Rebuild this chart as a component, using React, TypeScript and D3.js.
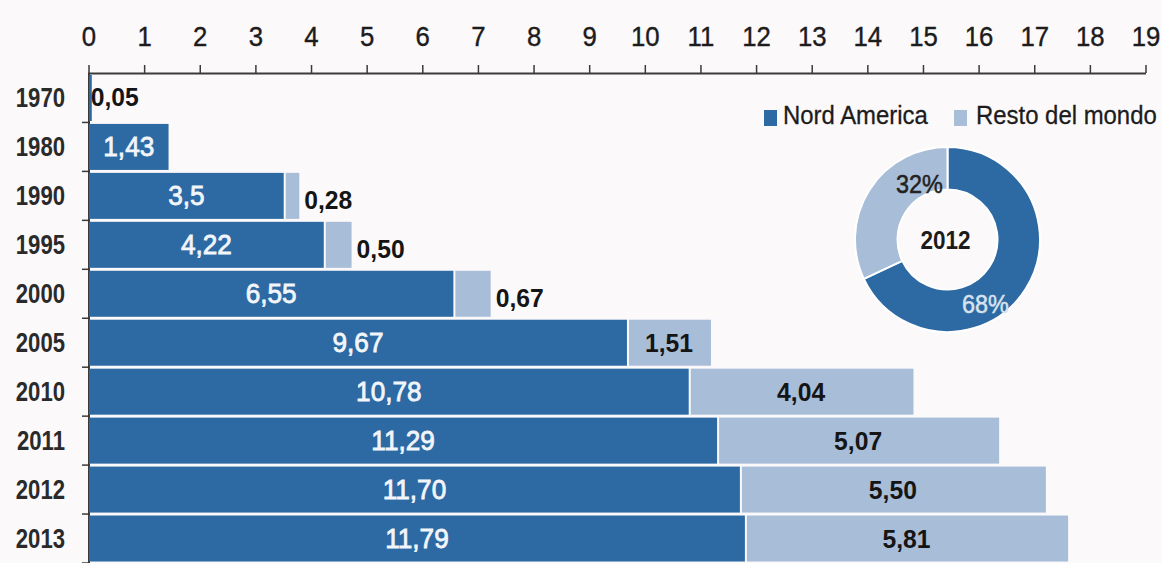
import React from "react";
import * as d3 from "d3";

const years = ["1970", "1980", "1990", "1995", "2000", "2005", "2010", "2011", "2012", "2013"];
const nordAmerica = [0.05, 1.43, 3.5, 4.22, 6.55, 9.67, 10.78, 11.29, 11.7, 11.79];
const restoMondo = [0, 0, 0.28, 0.5, 0.67, 1.51, 4.04, 5.07, 5.5, 5.81];
const naLabels = ["0,05", "1,43", "3,5", "4,22", "6,55", "9,67", "10,78", "11,29", "11,70", "11,79"];
const rmLabels = ["", "", "0,28", "0,50", "0,67", "1,51", "4,04", "5,07", "5,50", "5,81"];
const xTicks = d3.range(0, 20);
const pieLabels = ["Nord America", "Resto del mondo"];
const pieValues = [68, 32];
const pieYear = "2012";

const W = 1162;
const H = 563;
const DARK = "#2d6aa4";
const LIGHT = "#a8bdd8";
const BG = "#fcf9fb";
const INK = "#1c1c1c";
const FONT = "'Liberation Sans', Arial, sans-serif";

type TxtProps = {
  x: number;
  y: number;
  size: number;
  sx?: number;
  anchor?: "start" | "middle" | "end";
  bold?: boolean;
  fill?: string;
  stroke?: number;
  children: React.ReactNode;
};

function Txt({ x, y, size, sx = 1, anchor = "start", bold = false, fill = INK, stroke = 0, children }: TxtProps) {
  return (
    <text
      transform={`translate(${x},${y}) scale(${sx},1)`}
      fontSize={size}
      fontWeight={bold ? "bold" : "normal"}
      textAnchor={anchor}
      fill={fill}
      stroke={stroke > 0 ? fill : undefined}
      strokeWidth={stroke > 0 ? stroke : undefined}
    >
      {children}
    </text>
  );
}

export default function App() {
  const x = d3.scaleLinear().domain([0, 19]).range([89, 1146]);
  const y = d3.scaleBand<string>().domain(years).range([73.5, 563]).paddingInner(0.06).paddingOuter(0.03);
  const step = y.step();
  const bh = y.bandwidth();

  const pie = d3.pie<number>().sort(null).value((d) => d)(pieValues);
  const arc = d3.arc<d3.PieArcDatum<number>>().innerRadius(50).outerRadius(92.5);
  const cx = 947.5, cy = 239.5;

  return (
    <svg width={W} height={H} style={{ position: "absolute", left: 0, top: 0, background: BG }} fontFamily={FONT}>
      <rect width={W} height={H} fill={BG} />
      {/* top axis */}
      <line x1={x(0) - 1} x2={x(19)} y1={73.5} y2={73.5} stroke="#3a3a3a" strokeWidth={2} />
      {xTicks.map((t) => (
        <g key={t}>
          <line x1={x(t)} x2={x(t)} y1={65} y2={73} stroke="#3a3a3a" strokeWidth={1.5} />
          <Txt x={x(t)} y={46} size={28} sx={0.92} anchor="middle" stroke={0.4}>{t}</Txt>
        </g>
      ))}
      {/* left axis */}
      <line x1={x(0)} x2={x(0)} y1={73} y2={H} stroke="#3a3a3a" strokeWidth={2} />
      {years.map((yr, i) => (
        <g key={yr}>
          <line x1={x(0) - 7} x2={x(0)} y1={73.5 + step * (i + 1)} y2={73.5 + step * (i + 1)} stroke="#3a3a3a" strokeWidth={1.5} />
          <Txt x={65} y={(y(yr) as number) + bh / 2 + 9.5} size={27} sx={0.82} anchor="end" bold fill="#2a2a2a">{yr}</Txt>
        </g>
      ))}
      {/* bars */}
      {years.map((yr, i) => {
        const y0 = y(yr) as number;
        const naEnd = x(nordAmerica[i]);
        const rmEnd = x(nordAmerica[i] + restoMondo[i]);
        const base = y0 + bh / 2 + 9.5;
        const rmW = rmEnd - naEnd;
        return (
          <g key={yr}>
            <rect x={x(0)} y={y0} width={naEnd - x(0)} height={bh} fill={DARK} />
            {restoMondo[i] > 0 && (
              <rect x={naEnd + 2} y={y0} width={Math.max(0, rmW - 2)} height={bh} fill={LIGHT} />
            )}
            {nordAmerica[i] > 0.5 ? (
              <Txt x={(x(0) + naEnd) / 2} y={base} size={27} sx={0.97} anchor="middle" fill="#f2f5fa" stroke={0.8}>{naLabels[i]}</Txt>
            ) : (
              <Txt x={naEnd - 1} y={base - 1} size={26} sx={0.95} bold fill="#151515">{naLabels[i]}</Txt>
            )}
            {restoMondo[i] > 0 && (restoMondo[i] > 1 ? (
              <Txt x={(naEnd + rmEnd) / 2} y={base} size={26} sx={0.95} anchor="middle" bold fill="#151515">{rmLabels[i]}</Txt>
            ) : (
              <Txt x={rmEnd + 5} y={base + 4} size={26} sx={0.95} bold fill="#151515">{rmLabels[i]}</Txt>
            ))}
          </g>
        );
      })}
      {/* legend */}
      <g>
        <rect x={764} y={110} width={13} height={16} fill={DARK} />
        <Txt x={783} y={124} size={26} sx={0.92} stroke={0.3}>{pieLabels[0]}</Txt>
        <rect x={954} y={110} width={13} height={16} fill={LIGHT} />
        <Txt x={976} y={124} size={26} sx={0.92} stroke={0.3}>{pieLabels[1]}</Txt>
      </g>
      {/* donut */}
      <g transform={`translate(${cx},${cy})`}>
        {pie.map((p, i) => (
          <path key={i} d={arc(p) as string} fill={i === 0 ? DARK : LIGHT} stroke="#fff" strokeWidth={2} />
        ))}
        <Txt x={-2} y={9} size={25} sx={0.9} anchor="middle" bold>{pieYear}</Txt>
        <Txt x={-28} y={-47} size={26} sx={0.9} anchor="middle" fill="#222" stroke={0.5}>{pieValues[1]}%</Txt>
        <Txt x={38} y={73} size={26} sx={0.9} anchor="middle" fill="#d8e2ee" stroke={0.5}>{pieValues[0]}%</Txt>
      </g>
    </svg>
  );
}
